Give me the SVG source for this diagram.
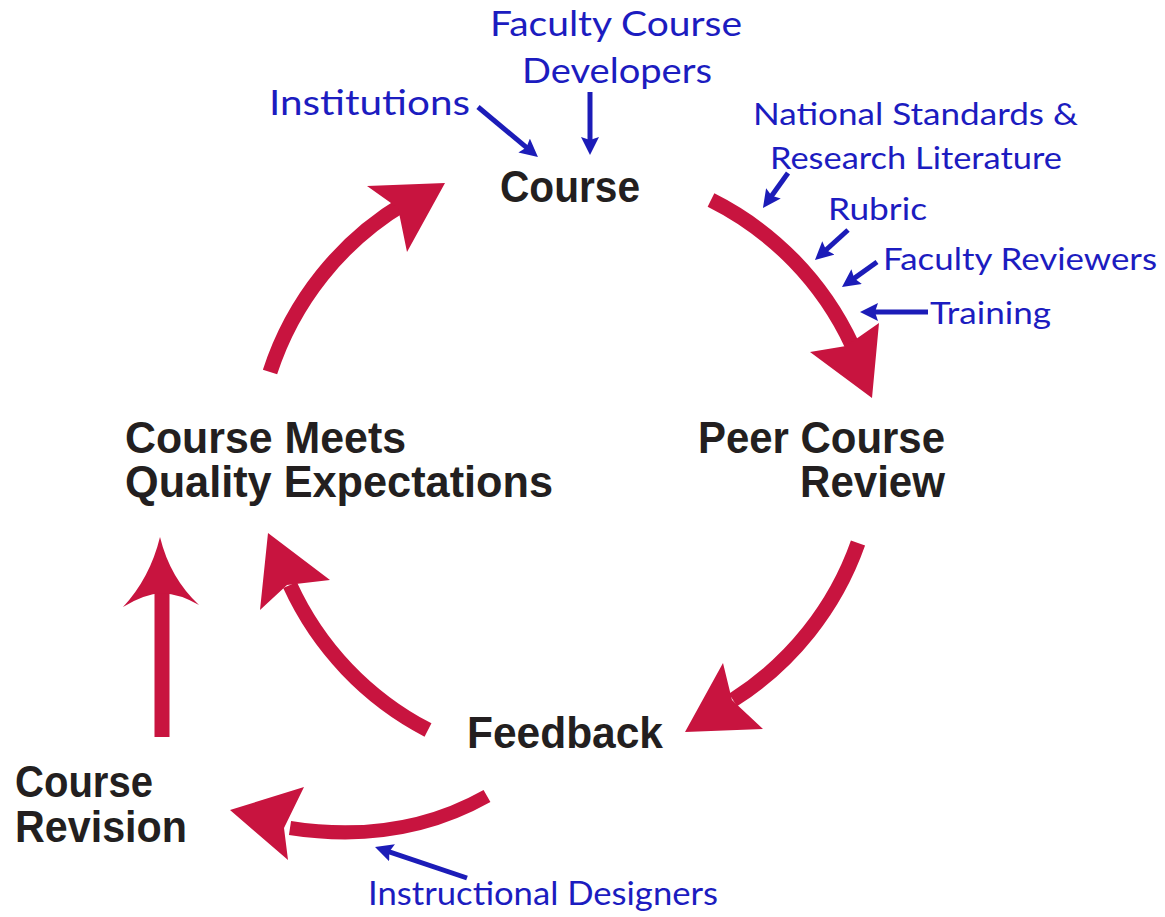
<svg xmlns="http://www.w3.org/2000/svg" width="1165" height="917" viewBox="0 0 1165 917">
<style>
.node{font-family:"Liberation Sans",Arial,sans-serif;font-weight:bold;font-size:44px;fill:#231f20}
.lbl{font-family:Lato,"Open Sans",sans-serif;fill:#1c1cc0}
.shaft{fill:none;stroke:#c8143f;stroke-width:15}
.head{fill:#c8143f}
.blue{stroke:#1c1cb8;stroke-width:5;fill:none;marker-end:url(#bh)}
</style>
<defs>
<marker id="bh" markerUnits="userSpaceOnUse" markerWidth="22" markerHeight="20" refX="10" refY="9" orient="auto">
<path d="M0,0 L18,9 L0,18 L3,9 Z" fill="#1c1cb8"/>
</marker>
</defs>
<rect width="1165" height="917" fill="#ffffff"/>

<g id="connectors">
<path class="shaft" d="M270,372 A307,307 0 0 1 405,203"/>
<path class="head" d="M445,183 L367,186 L398,208 L407,252 Z"/>
<path class="shaft" d="M711,200 A307,307 0 0 1 852,345"/>
<path class="head" d="M872,398 L810,352 L846,346 L879,323 Z"/>
<path class="shaft" d="M858,543 A307,307 0 0 1 733,700"/>
<path class="head" d="M685,732 L723,663 L732,700 L763,729 Z"/>
<path class="shaft" d="M428,730 A307,307 0 0 1 290,585"/>
<path class="head" d="M268,533 L330,580 L287,585 L260,610 Z"/>
<path class="shaft" d="M162,737 L162,590"/>
<path class="head" d="M160,537 Q170,578 199,605 Q180,594 162,593 Q144,594 123,607 Q150,578 160,537 Z"/>
<path class="shaft" style="stroke-width:14" d="M487,796 Q400,845 290,828"/>
<path class="head" d="M230,810 L304,787 L284,828 L288,860 Z"/>

<line class="blue" x1="478" y1="107" x2="531.8" y2="151.9"/>
<line class="blue" x1="590" y1="92" x2="590" y2="147"/>
<line class="blue" x1="788" y1="173" x2="767.6" y2="201.5"/>
<line class="blue" x1="848" y1="230" x2="820.9" y2="254.6"/>
<line class="blue" x1="877" y1="262" x2="848.5" y2="282.4"/>
<line class="blue" x1="928" y1="312" x2="868" y2="312"/>
<line class="blue" x1="467" y1="878" x2="382.6" y2="849.6"/>
</g>

<g id="node-course"><text class="node" x="500" y="202" textLength="140" lengthAdjust="spacingAndGlyphs">Course</text></g>
<g id="node-peer-review">
<text class="node" x="698" y="453" textLength="247" lengthAdjust="spacingAndGlyphs">Peer Course</text>
<text class="node" x="800" y="497" textLength="145" lengthAdjust="spacingAndGlyphs">Review</text>
</g>
<g id="node-feedback"><text class="node" x="467" y="748" textLength="196" lengthAdjust="spacingAndGlyphs">Feedback</text></g>
<g id="node-revision">
<text class="node" x="15" y="797" textLength="138" lengthAdjust="spacingAndGlyphs">Course</text>
<text class="node" x="15" y="842" textLength="172" lengthAdjust="spacingAndGlyphs">Revision</text>
</g>
<g id="node-meets">
<text class="node" x="125" y="453" textLength="281" lengthAdjust="spacingAndGlyphs">Course Meets</text>
<text class="node" x="125" y="497" textLength="428" lengthAdjust="spacingAndGlyphs">Quality Expectations</text>
</g>

<g id="label-developers">
<text class="lbl" x="490" y="36" font-size="34" textLength="252" lengthAdjust="spacingAndGlyphs">Faculty Course</text>
<text class="lbl" x="522" y="83" font-size="34" textLength="190" lengthAdjust="spacingAndGlyphs">Developers</text>
</g>
<g id="label-institutions"><text class="lbl" x="269" y="115" font-size="34" textLength="201" lengthAdjust="spacingAndGlyphs">Institutions</text></g>
<g id="label-standards">
<text class="lbl" x="753" y="125" font-size="31" textLength="325" lengthAdjust="spacingAndGlyphs">National Standards &amp;</text>
<text class="lbl" x="770" y="169" font-size="31" textLength="292" lengthAdjust="spacingAndGlyphs">Research Literature</text>
</g>
<g id="label-rubric"><text class="lbl" x="828" y="220" font-size="31" textLength="99" lengthAdjust="spacingAndGlyphs">Rubric</text></g>
<g id="label-reviewers"><text class="lbl" x="883" y="270" font-size="31" textLength="274" lengthAdjust="spacingAndGlyphs">Faculty Reviewers</text></g>
<g id="label-training"><text class="lbl" x="930" y="324" font-size="31" textLength="121" lengthAdjust="spacingAndGlyphs">Training</text></g>
<g id="label-designers"><text class="lbl" x="368" y="905" font-size="33" textLength="350" lengthAdjust="spacingAndGlyphs">Instructional Designers</text></g>
</svg>
